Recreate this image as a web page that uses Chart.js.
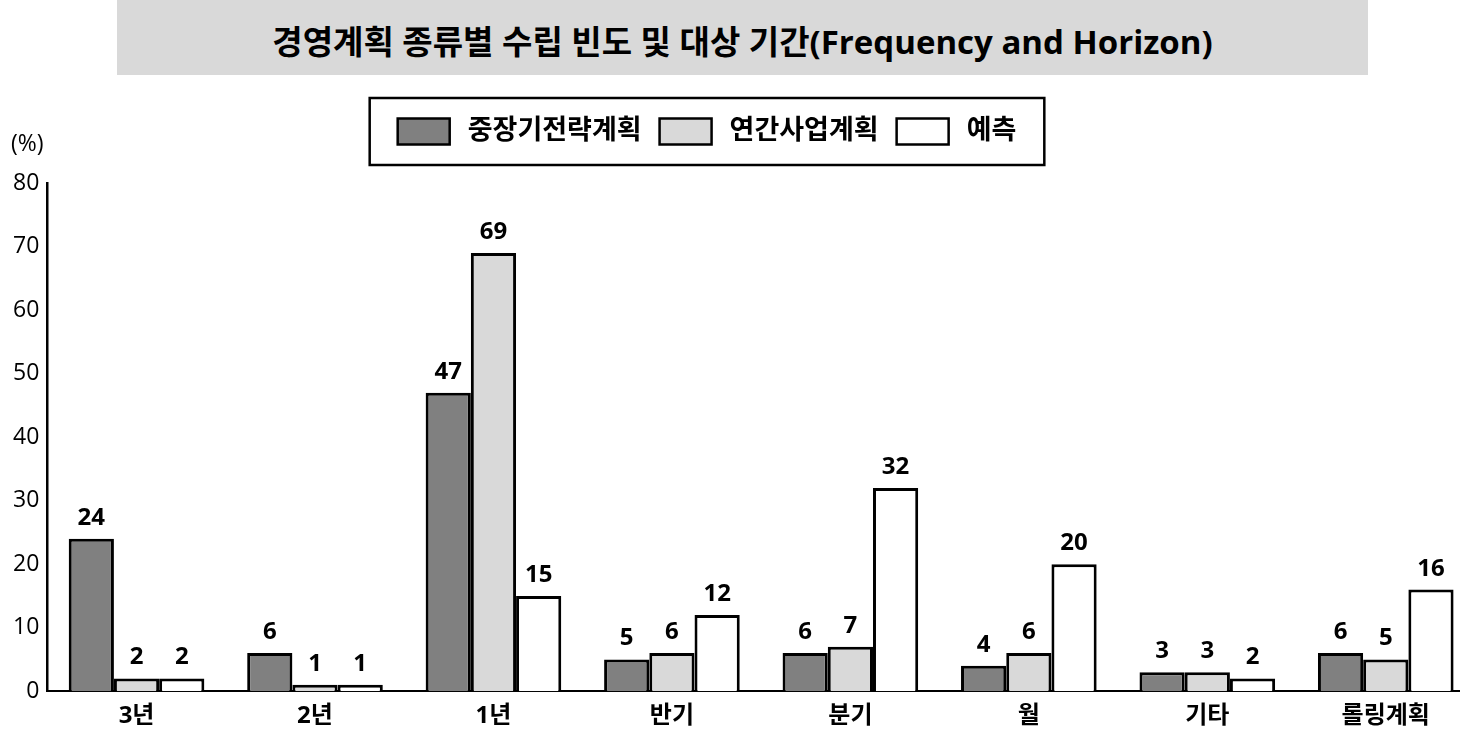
<!DOCTYPE html>
<html lang="ko">
<head>
<meta charset="utf-8">
<title>경영계획 종류별 수립 빈도 및 대상 기간</title>
<script src="https://cdn.jsdelivr.net/npm/chart.js@4.4.1/dist/chart.umd.min.js"></script>
<style>
    html, body { margin: 0; padding: 0; background: #fff; overflow: hidden; }
    #wrap { position: relative; width: 1460px; height: 731px; overflow: hidden; }
    #title {
        position: absolute; left: 117px; top: 0; width: 1251px; height: 75px;
        background: #d9d9d9; text-align: center; line-height: 84px;
        font-family: 'Open Sans', 'Noto Sans CJK KR', sans-serif; font-weight: 700; font-size: 33px; color: #000;
    }
    #chartBox { position: absolute; left: 0; top: 0; width: 1475px; height: 731px; }
</style>
</head>
<body>
<div id="wrap">
    <div id="chartBox"><canvas id="planChart" width="1475" height="731"></canvas></div>
    <div id="title">경영계획 종류별 수립 빈도 및 대상 기간(Frequency and Horizon)</div>
</div>
<script>
const FONT = "'Open Sans', 'Noto Sans CJK KR', sans-serif";

const categories = ['3년', '2년', '1년', '반기', '분기', '월', '기타', '롤링계획'];
const seriesNames = ['중장기전략계획', '연간사업계획', '예측'];
const midLongTerm = [24, 6, 47, 5, 6, 4, 3, 6];
const annualPlan = [2, 1, 69, 6, 7, 6, 3, 5];
const forecast = [2, 1, 15, 12, 32, 20, 2, 16];
const yTicks = [0, 10, 20, 30, 40, 50, 60, 70, 80];

const fills = ['#808080', '#d9d9d9', '#ffffff'];

// value labels above each bar
const barValues = {
    id: 'barValues',
    afterDatasetsDraw(chart) {
        const ctx = chart.ctx;
        ctx.save();
        ctx.font = `bold 24px ${FONT}`;
        ctx.fillStyle = '#000';
        ctx.textAlign = 'center';
        ctx.textBaseline = 'alphabetic';
        chart.data.datasets.forEach((ds, i) => {
            chart.getDatasetMeta(i).data.forEach((bar, j) => {
                ctx.fillText(ds.data[j], bar.x, bar.y - 14);
            });
        });
        // unit over the y axis
        ctx.font = `23px ${FONT}`;
        ctx.textAlign = 'left';
        ctx.textBaseline = 'middle';
        ctx.fillText('(%)', 11, chart.chartArea.top - 39);
        ctx.restore();
    }
};

// boxed legend, pulled a bit left of centre, with room below it
const legendFrame = {
    id: 'legendFrame',
    beforeInit(chart) {
        const fit = chart.legend.fit;
        chart.legend.fit = function () {
            fit.bind(chart.legend)();
            this.height += 28;
        };
    },
    afterLayout(chart) {
        chart.legend.left -= 33;
        chart.legend.right -= 33;
    },
    afterDraw(chart) {
        const lg = chart.legend;
        const pad = lg.options.labels.padding;
        const lineW = lg.lineWidths[0];
        const start = (lg.left + pad + lg.right - lineW) / 2;
        const end = start + lineW - pad;
        const boxTop = lg.top + pad;
        const ctx = chart.ctx;
        ctx.save();
        ctx.strokeStyle = '#000';
        ctx.lineWidth = 2.5;
        ctx.strokeRect(start - 28, boxTop - 20, end - start + 56, 26 + 41);
        ctx.restore();
    }
};

new Chart(document.getElementById('planChart'), {
    type: 'bar',
    data: {
        labels: categories,
        datasets: [midLongTerm, annualPlan, forecast].map((data, i) => ({
            label: seriesNames[i],
            data,
            backgroundColor: fills[i],
            borderColor: '#000',
            borderWidth: 3,
            categoryPercentage: 0.76,
            barPercentage: 1.0,
        })),
    },
    options: {
        responsive: false,
        animation: false,
        devicePixelRatio: 1,
        layout: { padding: { top: 100, left: 5, right: 0, bottom: -11 } },
        scales: {
            x: {
                grid: { display: false, drawTicks: false },
                border: { color: '#000', width: 2 },
                ticks: { color: '#000', font: { family: FONT, size: 24, weight: 'bold' }, padding: 11 },
            },
            y: {
                min: 0,
                max: 80,
                afterBuildTicks: (scale) => { scale.ticks = yTicks.map(v => ({ value: v })); },
                grid: { display: false, drawTicks: false },
                border: { color: '#000', width: 2.5 },
                ticks: { color: '#000', font: { family: FONT, size: 23 }, padding: 8 },
            },
        },
        plugins: {
            legend: {
                position: 'top',
                labels: {
                    boxWidth: 52,
                    boxHeight: 26,
                    padding: 18,
                    color: '#000',
                    font: { family: FONT, size: 27, weight: 'bold' },
                    generateLabels: (chart) => Chart.defaults.plugins.legend.labels.generateLabels(chart)
                        .map(item => ({ ...item, text: '\u2006' + item.text, lineWidth: 2.5 })),
                },
            },
            tooltip: { enabled: false },
        },
    },
    plugins: [barValues, legendFrame],
});
</script>
</body>
</html>
